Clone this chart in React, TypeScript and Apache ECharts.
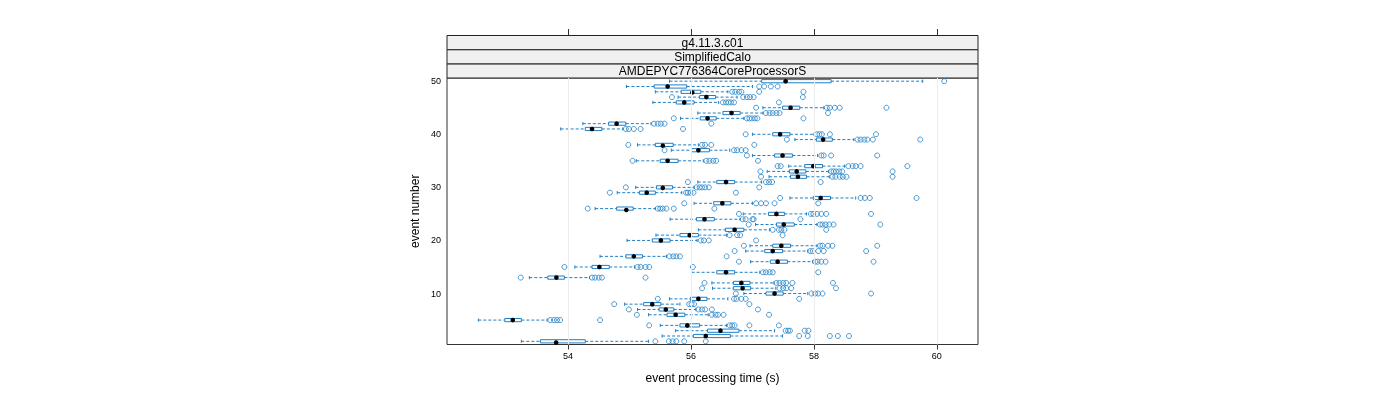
import React, { useEffect, useRef } from "react";
import * as echarts from "echarts";

// ---------- data (event 1 .. 50) ----------
const events = Array.from({ length: 50 }, (_, i) => i + 1);
const lowWhisker = [
  53.24, 55.53, 55.75, 55.50, 52.54, 55.31, 55.13, 54.92, 55.65, 56.86,
  56.35, 56.34, 53.37, 56.01, 54.11, 56.97, 54.52, 56.89, 56.96, 54.96,
  55.43, 56.12, 57.05, 55.66, 56.85, 54.44, 56.05, 57.61, 54.80, 55.10,
  56.11, 57.27, 57.24, 57.59, 55.11, 57.00, 55.68, 55.13, 57.69, 57.00,
  53.88, 54.24, 55.83, 56.11, 57.17, 55.38, 55.79, 55.42, 54.95, 55.65,
];
const q1 = [
  53.55, 56.04, 56.27, 55.82, 52.97, 55.61, 55.48, 55.23, 55.99, 57.22,
  56.69, 56.69, 53.67, 56.42, 54.39, 57.29, 54.94, 57.20, 57.33, 55.37,
  55.82, 56.56, 57.39, 56.09, 57.26, 54.79, 56.37, 57.99, 55.16, 55.44,
  56.42, 57.62, 57.60, 57.85, 55.50, 57.36, 56.01, 55.42, 58.04, 57.33,
  54.28, 54.66, 56.15, 56.52, 57.49, 55.76, 56.14, 55.84, 55.40, 57.15,
];
const median = [
  53.80, 56.24, 56.48, 55.94, 53.10, 55.75, 55.59, 55.37, 56.12, 57.36,
  56.84, 56.82, 53.81, 56.57, 54.51, 57.41, 55.07, 57.33, 57.47, 55.51,
  55.98, 56.71, 57.51, 56.22, 57.39, 54.94, 56.51, 58.11, 55.28, 55.54,
  56.57, 57.74, 57.72, 57.99, 55.62, 57.49, 56.12, 55.54, 58.15, 57.45,
  54.39, 54.79, 56.27, 56.66, 57.62, 55.89, 56.25, 56.02, 55.62, 57.54,
];
const q3 = [
  54.28, 56.64, 56.78, 56.14, 53.24, 55.90, 55.72, 55.51, 56.26, 57.50,
  56.97, 56.96, 53.94, 56.71, 54.67, 57.57, 55.21, 57.49, 57.62, 55.66,
  56.12, 56.86, 57.68, 56.38, 57.52, 55.06, 56.65, 58.27, 55.42, 55.70,
  56.71, 57.88, 57.87, 58.14, 55.79, 57.65, 56.30, 55.71, 58.30, 57.61,
  54.55, 54.94, 56.41, 56.80, 57.77, 56.05, 56.40, 56.16, 55.93, 58.28,
];
const highWhisker = [
  55.31, 57.49, 57.36, 56.58, 53.66, 56.28, 56.08, 55.82, 56.60, 57.90,
  57.38, 57.35, 54.35, 57.12, 55.08, 57.98, 55.60, 57.90, 58.05, 56.10,
  56.58, 57.28, 58.05, 56.80, 57.88, 55.42, 57.00, 58.68, 55.85, 56.05,
  57.15, 58.25, 58.24, 58.50, 56.20, 58.06, 56.63, 56.12, 58.65, 58.00,
  54.89, 55.35, 56.86, 57.17, 58.16, 56.45, 56.75, 56.60, 57.00, 59.77,
];
const outliers = [
  [55.42, 55.64, 55.70, 55.76, 55.89, 56.24],
  [57.76, 57.90, 58.26, 58.39, 58.57],
  [57.54, 57.58, 57.61, 57.85, 57.91],
  [55.32, 56.63, 56.67, 56.71, 56.95, 57.43],
  [53.71, 53.77, 53.82, 53.87, 54.52],
  [55.12, 56.34, 56.40, 56.44, 56.53, 57.27],
  [54.99, 56.12, 56.18, 56.23, 56.34, 57.09],
  [54.75, 55.97, 56.01, 56.05, 56.95],
  [55.46, 56.70, 56.74, 56.82, 56.89, 57.76],
  [56.73, 57.96, 58.02, 58.07, 58.14, 58.93],
  [56.18, 57.44, 57.50, 57.55, 57.63, 58.36],
  [56.22, 57.39, 57.44, 57.50, 57.55, 57.65, 58.31],
  [53.23, 54.39, 54.44, 54.50, 54.55, 55.26],
  [57.17, 57.22, 57.28, 57.33, 58.07],
  [53.94, 55.13, 55.18, 55.26, 55.32, 56.03],
  [56.78, 58.02, 58.06, 58.12, 58.19, 58.97],
  [55.65, 55.71, 55.76, 55.82, 56.58],
  [56.71, 57.94, 57.98, 58.07, 58.16, 58.85],
  [56.86, 58.10, 58.14, 58.23, 58.30, 59.03],
  [56.16, 56.21, 56.29, 57.06],
  [56.63, 56.75, 56.80, 57.49],
  [57.33, 57.43, 57.47, 57.52, 58.20],
  [56.94, 58.10, 58.14, 58.19, 58.25, 58.32, 59.08],
  [56.84, 56.89, 57.00, 57.02, 57.78],
  [56.78, 57.95, 57.99, 58.05, 58.12, 58.20, 58.93],
  [54.32, 55.46, 55.50, 55.54, 55.60, 55.72, 56.38],
  [55.89, 57.06, 57.14, 57.22, 57.36, 58.07],
  [57.45, 58.76, 58.83, 58.91, 59.67],
  [54.68, 55.92, 55.95, 55.99, 56.04, 56.73],
  [54.94, 56.09, 56.14, 56.18, 56.23, 56.29, 57.11],
  [55.95, 57.22, 57.27, 57.32, 58.11],
  [57.14, 58.30, 58.35, 58.42, 58.47, 58.53, 59.28],
  [57.13, 58.28, 58.32, 58.36, 58.41, 58.46, 59.28],
  [57.41, 57.46, 58.56, 58.63, 58.68, 58.76, 59.52],
  [55.05, 56.25, 56.30, 56.36, 56.41, 57.09],
  [56.91, 58.12, 58.16, 58.28, 59.03],
  [55.57, 56.70, 56.75, 56.82, 56.89],
  [54.98, 56.18, 56.23, 56.33, 57.03],
  [57.56, 58.71, 58.76, 58.82, 58.87, 58.96, 59.73],
  [56.89, 58.05, 58.09, 58.13, 58.26, 59.01],
  [54.94, 54.99, 55.07, 55.18, 55.87],
  [55.40, 55.46, 55.51, 55.57, 56.33],
  [55.72, 56.91, 56.95, 56.99, 57.04, 57.08, 57.83],
  [57.22, 57.28, 57.33, 57.39, 57.44, 58.23],
  [57.06, 58.21, 58.26, 58.34, 58.42, 59.18],
  [56.52, 56.57, 56.61, 56.65, 56.70, 57.43],
  [55.69, 56.85, 56.91, 56.96, 57.02, 57.82],
  [56.67, 56.72, 56.78, 56.82, 57.11, 57.83],
  [57.11, 57.19, 57.30, 57.41],
  [60.12],
];
const xTicks = [54, 56, 58, 60];
const yTicks = [10, 20, 30, 40, 50];
const stripLabels = ["g4.11.3.c01", "SimplifiedCalo", "AMDEPYC776364CoreProcessorS"];
const xTitle = "event processing time (s)";
const yTitle = "event number";

const BLUE = "#1f7fc6";
const FONT = "'Liberation Sans', Arial, sans-serif";

export default function App() {
  const ref = useRef<HTMLDivElement>(null);
  useEffect(() => {
    if (!ref.current) return;
    const chart = echarts.init(ref.current, null, { renderer: "svg" });

    const boxData = events.map((e, i) => [e, lowWhisker[i], q1[i], median[i], q3[i], highWhisker[i]]);
    const outData: number[][] = [];
    events.forEach((e, i) => outliers[i].forEach((v) => outData.push([v, e])));

    const plotLeft = 447, plotTop = 78, plotW = 531, plotH = 266.5;
    const stripH = 14.17;

    const graphics: any[] = [];
    stripLabels.forEach((s, i) => {
      const y = plotTop - stripH * (i + 1);
      const label = stripLabels[stripLabels.length - 1 - i];
      graphics.push({
        type: "rect",
        shape: { x: plotLeft, y, width: plotW, height: stripH },
        style: { fill: "#f0f0f0", stroke: "#222", lineWidth: 1 },
        silent: true,
      });
      graphics.push({
        type: "text",
        x: plotLeft + plotW / 2,
        y: y + stripH / 2,
        style: { text: label, font: `12px ${FONT}`, fill: "#000", align: "center", verticalAlign: "middle" },
        silent: true,
      });
    });
    graphics.push({
      type: "text",
      x: plotLeft + plotW / 2,
      y: 378,
      style: { text: xTitle, font: `12px ${FONT}`, fill: "#000", align: "center", verticalAlign: "middle" },
      silent: true,
    });
    graphics.push({
      type: "text",
      x: 415,
      y: plotTop + plotH / 2,
      rotation: Math.PI / 2,
      style: { text: yTitle, font: `12px ${FONT}`, fill: "#000", align: "center", verticalAlign: "middle" },
      silent: true,
    });

    chart.setOption({
      animation: false,
      grid: {
        left: plotLeft, top: plotTop, width: plotW, height: plotH,
        show: true, borderColor: "#333", borderWidth: 1, backgroundColor: "transparent",
      },
      xAxis: [
        {
          type: "value", min: 52.03, max: 60.67, position: "bottom",
          axisLine: { show: false },
          axisTick: { show: true, customValues: xTicks, length: 5, lineStyle: { color: "#333" } },
          axisLabel: { customValues: xTicks, fontSize: 9, color: "#000", fontFamily: FONT, margin: 7 },
          splitLine: { show: false },
        },
        {
          type: "value", min: 52.03, max: 60.67, position: "top", offset: 43,
          axisLine: { show: false },
          axisTick: { show: true, customValues: xTicks, length: 6, lineStyle: { color: "#333" } },
          axisLabel: { show: false },
          splitLine: { show: false },
        },
      ],
      yAxis: {
        type: "value", min: 0.4, max: 50.6,
        axisLine: { show: false },
        axisTick: { show: false },
        axisLabel: { customValues: yTicks, fontSize: 9, color: "#000", fontFamily: FONT, margin: 6 },
        splitLine: { show: false },
      },
      graphic: graphics,
      series: [
        {
          type: "scatter",
          data: [],
          z: 1,
          silent: true,
          markLine: {
            silent: true,
            symbol: "none",
            label: { show: false },
            lineStyle: { color: "#ececec", type: "solid", width: 1 },
            data: xTicks.map((v) => ({ xAxis: v })),
          },
        },
        {
          type: "custom",
          z: 3,
          silent: true,
          data: boxData,
          encode: { x: [1, 2, 3, 4, 5], y: 0 },
          renderItem: (params: any, api: any) => {
            const ev = api.value(0);
            const pLo = api.coord([api.value(1), ev]);
            const pQ1 = api.coord([api.value(2), ev]);
            const pMed = api.coord([api.value(3), ev]);
            const pQ3 = api.coord([api.value(4), ev]);
            const pHi = api.coord([api.value(5), ev]);
            const y = pMed[1];
            const h = 1.6;
            const dash = { stroke: BLUE, lineWidth: 1, lineDash: [3, 2], fill: null };
            const solid = { stroke: BLUE, lineWidth: 1, fill: null };
            return {
              type: "group",
              children: [
                { type: "line", shape: { x1: pLo[0], y1: y, x2: pQ1[0], y2: y }, style: dash },
                { type: "line", shape: { x1: pQ3[0], y1: y, x2: pHi[0], y2: y }, style: dash },
                { type: "line", shape: { x1: pLo[0], y1: y - h, x2: pLo[0], y2: y + h }, style: solid },
                { type: "line", shape: { x1: pHi[0], y1: y - h, x2: pHi[0], y2: y + h }, style: solid },
                {
                  type: "rect",
                  shape: { x: pQ1[0], y: y - h, width: pQ3[0] - pQ1[0], height: 2 * h },
                  style: { stroke: BLUE, lineWidth: 1, fill: "rgba(255,255,255,0)" },
                },
                { type: "circle", shape: { cx: pMed[0], cy: y, r: 2.3 }, style: { fill: "#000" } },
              ],
            };
          },
        },
        {
          type: "scatter",
          z: 4,
          silent: true,
          data: outData,
          symbol: "circle",
          symbolSize: 5,
          itemStyle: { color: "transparent", borderColor: BLUE, borderWidth: 1 },
        },
      ],
    });
    return () => chart.dispose();
  }, []);
  return <div ref={ref} style={{ position: "fixed", left: 0, top: 0, width: 1400, height: 400 }} />;
}
